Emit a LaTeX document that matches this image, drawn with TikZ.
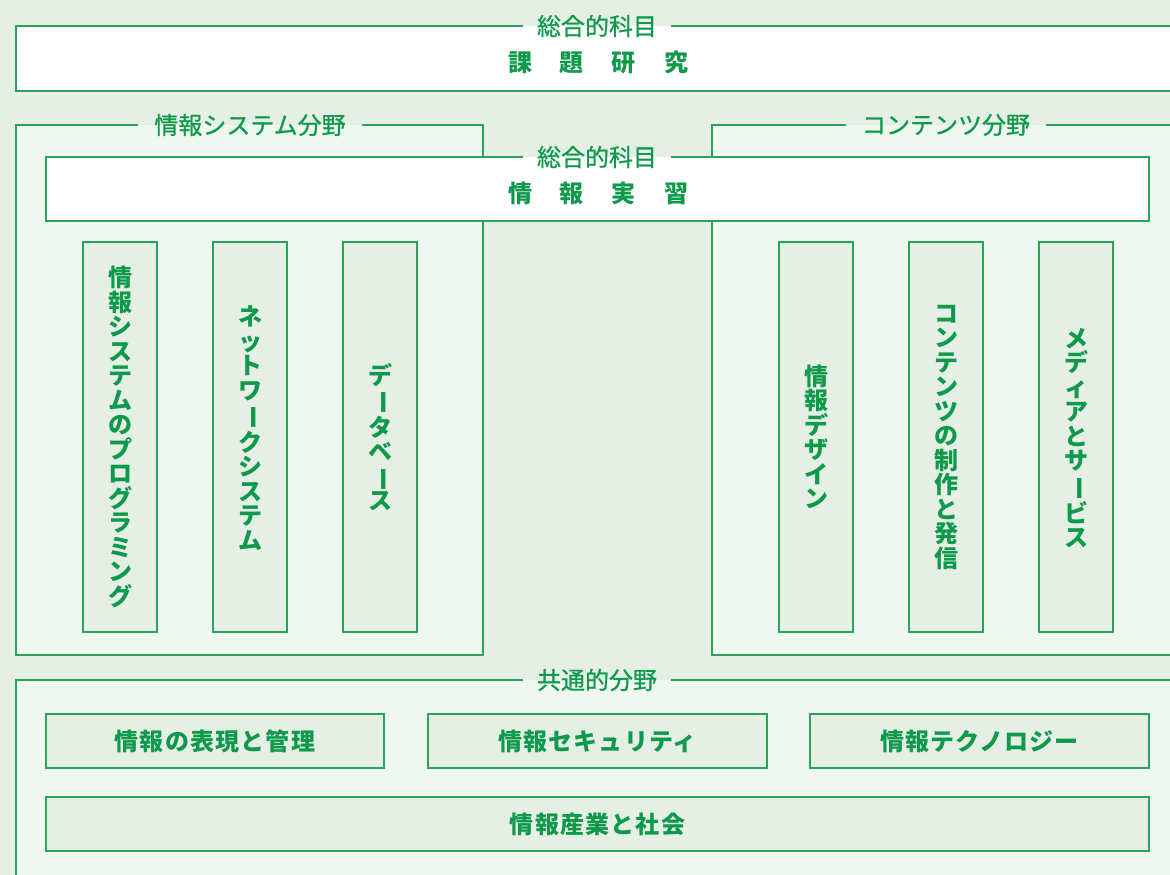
\documentclass[tikz,border=0pt]{standalone}
\usepackage{fontspec}
\newfontfamily\jp{Noto Sans CJK JP}
\newfontfamily\jpl[FakeBold=0.8]{Noto Sans CJK JP}
\definecolor{tg}{HTML}{0E9A4A}
\definecolor{lg}{HTML}{2AA35C}
\definecolor{bgd}{HTML}{E5EFE6}
\definecolor{bgl}{HTML}{F0F7F1}
\newcommand\vb{\rotatebox[origin=c]{-90}{ー}}
\tikzset{
  fr/.style={draw=lg, line width=1.4pt},
  ibox/.style={draw=lg, fill=bgd, line width=1.4pt},
  lab/.style={text=tg, font=\jpl\fontsize{24}{26}\selectfont, inner xsep=14pt, inner ysep=0pt},
  htxt/.style={text=tg, font=\jp\bfseries\fontsize{24}{26}\selectfont\addfontfeature{LetterSpace=5}, inner sep=0pt},
  ktxt/.style={text=tg, font=\jp\bfseries\fontsize{24}{26}\selectfont, inner sep=0pt},
  vtxt/.style={text=tg, font=\jp\bfseries\fontsize{24}{24.5}\selectfont, align=center, inner sep=0pt},
}
\begin{document}
\begin{tikzpicture}[x=1pt,y=-1pt]
\useasboundingbox (0,0) rectangle (1170,875);
\clip (0,0) rectangle (1170,875);
\fill[bgd] (0,0) rectangle (1170,875);

% top: 課題研究
\fill[white] (16,26) rectangle (1190,91);
\node[lab] (L1) at (597,26) {総合的科目};
\draw[fr] (L1.east) -- (1190,26) -- (1190,91) -- (16,91) -- (16,26) -- (L1.west);
\node[ktxt] (kadai) at (598,62) {課\hspace{28pt}題\hspace{28pt}研\hspace{28pt}究};

% left frame
\fill[bgl] (16,125) rectangle (483,655);
\node[lab, inner xsep=16pt] (L2) at (250,125) {情報システム分野};
\draw[fr] (L2.east) -- (483,125) -- (483,655) -- (16,655) -- (16,125) -- (L2.west);

% right frame
\fill[bgl] (712,125) rectangle (1190,655);
\node[lab, inner xsep=16pt] (L3) at (946,125) {コンテンツ分野};
\draw[fr] (L3.east) -- (1190,125) -- (1190,655) -- (712,655) -- (712,125) -- (L3.west);

% 情報実習
\fill[white] (46,157) rectangle (1149,221);
\node[lab] (L4) at (597,157) {総合的科目};
\draw[fr] (L4.east) -- (1149,157) -- (1149,221) -- (46,221) -- (46,157) -- (L4.west);
\node[ktxt] (jisshu) at (598,193) {情\hspace{28pt}報\hspace{28pt}実\hspace{28pt}習};

% vertical boxes
\draw[ibox] (83,242) rectangle (157,632);
\draw[ibox] (213,242) rectangle (287,632);
\draw[ibox] (343,242) rectangle (417,632);
\draw[ibox] (779,242) rectangle (853,632);
\draw[ibox] (909,242) rectangle (983,632);
\draw[ibox] (1039,242) rectangle (1113,632);
\node[vtxt] (v1) at (120,437) {情\\報\\シ\\ス\\テ\\ム\\の\\プ\\ロ\\グ\\ラ\\ミ\\ン\\グ};
\node[vtxt] (v2) at (250,428) {ネ\\ッ\\ト\\ワ\\\vb\\ク\\シ\\ス\\テ\\ム};
\node[vtxt] (v3) at (380,437) {デ\\\vb\\タ\\ベ\\\vb\\ス};
\node[vtxt] (v4) at (816,437) {情\\報\\デ\\ザ\\イ\\ン};
\node[vtxt] (v5) at (946,437) {コ\\ン\\テ\\ン\\ツ\\の\\制\\作\\と\\発\\信};
\node[vtxt] (v6) at (1076,438) {メ\\デ\\ィ\\ア\\と\\サ\\\vb\\ビ\\ス};

% common frame
\fill[bgl] (16,680) rectangle (1190,890);
\node[lab] (L5) at (597,680) {共通的分野};
\draw[fr] (L5.east) -- (1190,680) -- (1190,890) -- (16,890) -- (16,680) -- (L5.west);

\node[ibox, minimum width=338pt, minimum height=54pt, inner sep=0pt] (c1) at (215,741) {};
\node[ibox, minimum width=339pt, minimum height=54pt, inner sep=0pt] (c2) at (597.5,741) {};
\node[ibox, minimum width=339pt, minimum height=54pt, inner sep=0pt] (c3) at (979.5,741) {};
\node[ibox, minimum width=1103pt, minimum height=54pt, inner sep=0pt] (c4) at (597.5,824) {};
\node[htxt] at (c1) {情報の表現と管理};
\node[htxt] at (c2) {情報セキュリティ};
\node[htxt] at (c3) {情報テクノロジー};
\node[htxt] at (c4) {情報産業と社会};
\end{tikzpicture}
\end{document}
